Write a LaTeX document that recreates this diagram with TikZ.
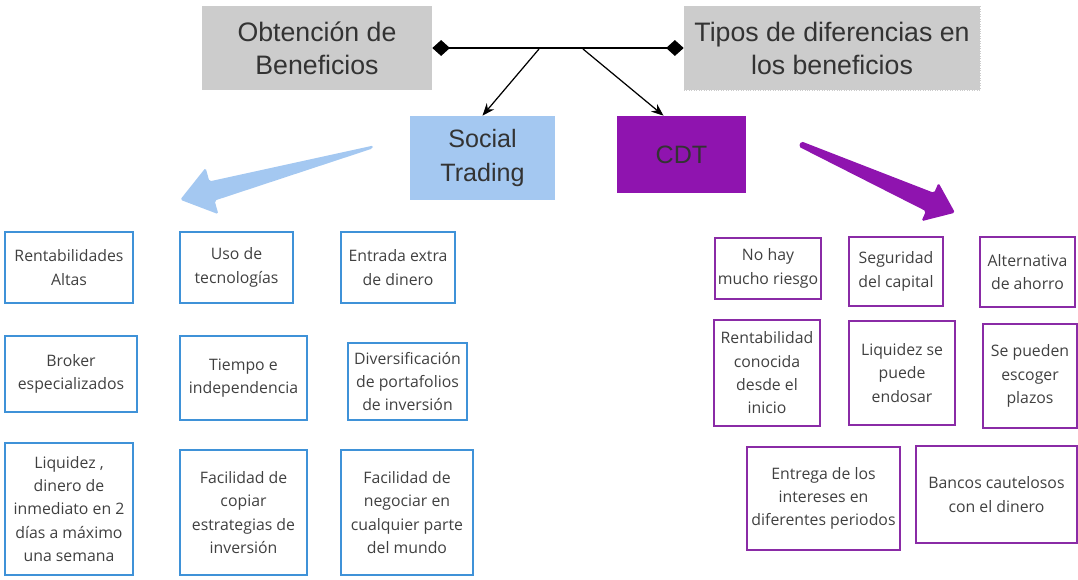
\documentclass[tikz,border=0pt]{standalone}
\usepackage{fontspec}
\setmainfont{Open Sans}
\newfontfamily\titlefont{Liberation Sans}
\usetikzlibrary{arrows.meta}
\usetikzlibrary{calc}

\definecolor{boxgray}{HTML}{CCCCCC}
\definecolor{socialblue}{HTML}{A4C8F1}
\definecolor{itemblue}{HTML}{3F92D8}
\definecolor{cdtpurple}{HTML}{8F14AF}
\definecolor{itempurple}{HTML}{8A2BA6}
\definecolor{bodytext}{HTML}{404040}

\begin{document}
\begin{tikzpicture}[x=0.02cm,y=-0.02cm,
    title/.style={fill=boxgray, text=black!80, align=center, inner sep=0pt,
      font=\titlefont\fontsize{15.2}{18.8}\selectfont},
    branch/.style={text=black!80, align=center, inner sep=0pt,
      font=\titlefont\fontsize{14.3}{18.8}\selectfont},
    item/.style={draw, line width=1.1pt, text=bodytext, align=center, inner sep=0pt,
      font=\fontsize{9}{13.3}\selectfont},
    sitem/.style={item, draw=itemblue},
    citem/.style={item, draw=itempurple}]
                \useasboundingbox (0,0) rectangle (1078,579);
                % top
                \node[title, minimum width=4.6cm, minimum height=1.68cm] (obt) at (317,48) {Obtención de\\Beneficios};
                \node[title, draw=black!20, densely dotted, minimum width=5.92cm, minimum height=1.68cm] (tip) at (832,48) {Tipos de diferencias en\\los beneficios};
                \node[branch, fill=socialblue, minimum width=2.9cm, minimum height=1.68cm] (soc) at (482.5,158) {Social\\Trading};
                \node[branch, fill=cdtpurple, minimum width=2.58cm, minimum height=1.54cm] (cdt) at (681.5,154.5) {CDT};
                \draw[line width=0.7pt, {Diamond[length=10pt,width=9pt]}-{Diamond[length=10pt,width=9pt]}] (obt) -- (tip);
                \coordinate (j1) at (539,49);
                \coordinate (j2) at (583,49);
                \draw[line width=0.7pt, -{Stealth[length=7pt,width=5.5pt]}] (j1) to (soc.north);
                \draw[line width=0.7pt, -{Stealth[length=7pt,width=5.5pt]}] (j2) to ($(cdt.north)+(-18,0)$);
                % big arrows
                \fill[socialblue, rounded corners=1pt] (373.5,145.5) -- (209.4,181.4) -- (205.6,167.8) -- (180.2,199.7)
                    -- (218.4,214.2) -- (214.6,200.6) -- (372.5,148.5) -- cycle;
                \fill[cdtpurple, rounded corners=1pt] (801.2,141.3) -- (934.1,192.9) -- (938.5,182.8) -- (955,212.7)
                    -- (921.5,221.2) -- (925.9,211.1) -- (798.8,146.7) -- cycle;
                % social trading
                \node[sitem, minimum width=2.56cm, minimum height=1.42cm] (s1) at (69,267.5) {Rentabilidades\\Altas};
                \node[sitem, minimum width=2.26cm, minimum height=1.42cm] (s2) at (236.5,267.5) {Uso de\\tecnologías};
                \node[sitem, minimum width=2.28cm, minimum height=1.42cm] (s3) at (398,267.5) {Entrada extra\\de dinero};
                \node[sitem, minimum width=2.64cm, minimum height=1.52cm] (s4) at (71,374) {Broker\\especializados};
                \node[sitem, minimum width=2.54cm, minimum height=1.68cm] (s5) at (243.5,378) {Tiempo e\\independencia};
                \node[sitem, minimum width=2.38cm, minimum height=1.54cm] (s6) at (407.5,381.5) {Diversificación\\de portafolios\\de inversión};
                \node[sitem, minimum width=2.56cm, minimum height=2.64cm] (s7) at (69,509) {Liquidez ,\\dinero de\\inmediato en 2\\días a máximo\\una semana};
                \node[sitem, minimum width=2.54cm, minimum height=2.5cm] (s8) at (243.5,512.5) {Facilidad de\\copiar\\estrategias de\\inversión};
                \node[sitem, minimum width=2.64cm, minimum height=2.5cm] (s9) at (407,512.5) {Facilidad de\\negociar en\\cualquier parte\\del mundo};
                % cdt
                \node[citem, minimum width=2.12cm, minimum height=1.22cm] (c1) at (768,268.5) {No hay\\mucho riesgo};
                \node[citem, minimum width=1.88cm, minimum height=1.38cm] (c2) at (896,271.5) {Seguridad\\del capital};
                \node[citem, minimum width=1.9cm, minimum height=1.4cm] (c3) at (1027.5,272) {Alternativa\\de ahorro};
                \node[citem, minimum width=2.12cm, minimum height=2.12cm] (c4) at (767,373) {Rentabilidad\\conocida\\desde el\\inicio};
                \node[citem, minimum width=2.12cm, minimum height=2.08cm] (c5) at (902,373) {Liquidez se\\puede\\endosar};
                \node[citem, minimum width=1.88cm, minimum height=2.08cm] (c6) at (1030,376) {Se pueden\\escoger\\plazos};
                \node[citem, minimum width=3.06cm, minimum height=2.06cm] (c7) at (823.5,498.5) {Entrega de los\\intereses en\\diferentes periodos};
                \node[citem, minimum width=3.22cm, minimum height=1.94cm] (c8) at (996.5,494.5) {Bancos cautelosos\\con el dinero};
            \end{tikzpicture}
\end{document}
